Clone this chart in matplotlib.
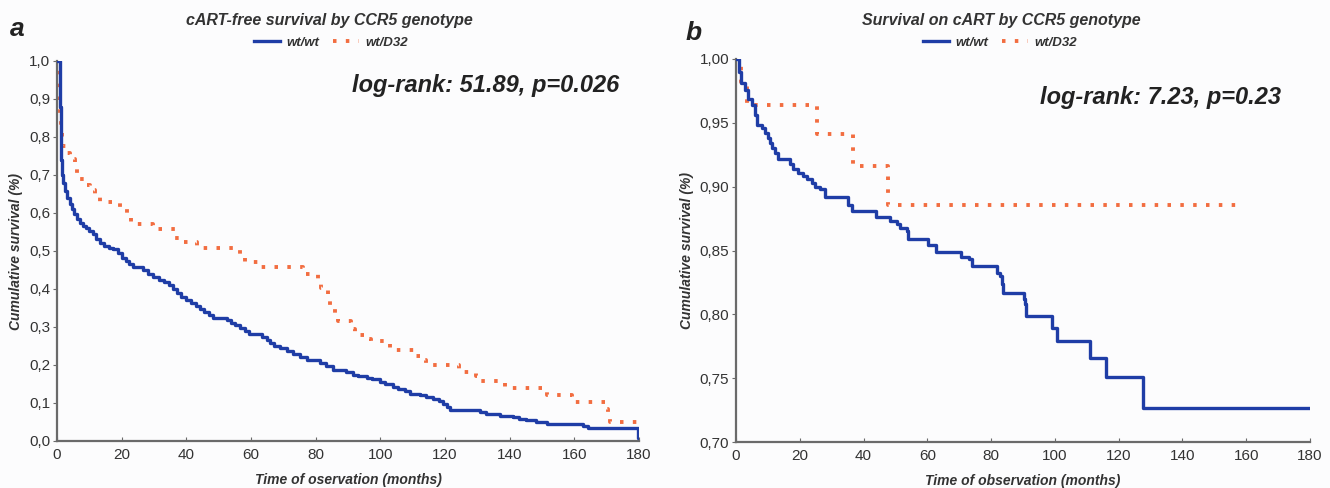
import matplotlib
matplotlib.use('Agg')
import matplotlib.pyplot as plt
from matplotlib.lines import Line2D

plt.rcParams['font.family'] = ['Liberation Sans', 'DejaVu Sans']

# panel a: cART-free survival, wt/wt
a_wt_time = [0, 0.9, 1.0, 1.1, 1.2, 1.4, 1.8, 2.4, 3.0, 3.9, 4.6, 5.4, 6.3, 7.0, 8.0,
             9.0, 10.0, 11.2, 12.2, 13.2, 14.5, 16.0, 17.4, 18.8, 20.0, 21.2, 22.3, 23.6,
             26.6, 28.0, 29.8, 31.5, 33.0, 34.5, 36.0, 37.0, 38.5, 40.0, 41.5, 43.0, 44.2,
             45.5, 47.0, 48.3, 52.5, 53.8, 55.2, 56.6, 58.0, 59.3, 63.5, 65.0, 66.0, 67.0,
             69.0, 71.0, 73.0, 75.2, 77.3, 81.4, 83.3, 85.4, 89.5, 91.7, 93.0, 95.9, 97.5,
             99.8, 101.5, 103.9, 105.5, 107.5, 109.1, 112.2, 114.0, 116.3, 118.0, 119.4,
             120.5, 121.5, 130.8, 132.8, 137.0, 141.1, 143.0, 145.2, 148.0, 151.4, 162.8,
             164.3, 179.8, 180.0]
a_wt_surv = [1.0, 0.95, 0.88, 0.80, 0.74, 0.70, 0.68, 0.658, 0.64, 0.623, 0.61, 0.597,
             0.585, 0.575, 0.567, 0.56, 0.552, 0.544, 0.532, 0.52, 0.512, 0.508, 0.505,
             0.495, 0.482, 0.474, 0.465, 0.457, 0.450, 0.440, 0.432, 0.425, 0.418, 0.410,
             0.400, 0.390, 0.380, 0.372, 0.364, 0.356, 0.347, 0.340, 0.332, 0.325, 0.318,
             0.311, 0.304, 0.297, 0.290, 0.282, 0.275, 0.267, 0.258, 0.251, 0.244, 0.238,
             0.230, 0.221, 0.212, 0.205, 0.197, 0.186, 0.181, 0.175, 0.170, 0.166, 0.162,
             0.156, 0.150, 0.142, 0.137, 0.131, 0.124, 0.120, 0.115, 0.111, 0.105, 0.098,
             0.090, 0.082, 0.076, 0.071, 0.067, 0.063, 0.058, 0.054, 0.050, 0.046, 0.040,
             0.033, 0.008, 0.008]

# panel a: cART-free survival, wt/D32
a_d32_time = [0, 0.9, 1.0, 1.2, 1.4, 1.6, 2.9, 3.9, 5.5, 6.2, 7.0, 8.6, 10.1, 11.7, 13.2,
              19.5, 21.5, 23.0, 29.8, 36.5, 38.5, 43.2, 56.6, 58.2, 62.3, 76.0, 80.7, 81.8,
              83.8, 84.5, 85.9, 86.9, 91.0, 92.1, 95.5, 97.0, 102.9, 110.7, 112.2, 114.0,
              124.3, 129.5, 131.0, 138.5, 151.6, 159.3, 170.0, 170.5, 171.0, 180.0]
a_d32_surv = [1.0, 0.93, 0.86, 0.829, 0.803, 0.776, 0.759, 0.741, 0.728, 0.706, 0.689,
              0.674, 0.660, 0.645, 0.630, 0.610, 0.592, 0.571, 0.558, 0.535, 0.525, 0.509,
              0.492, 0.472, 0.457, 0.439, 0.422, 0.403, 0.369, 0.347, 0.330, 0.317, 0.295,
              0.280, 0.269, 0.262, 0.240, 0.225, 0.214, 0.199, 0.181, 0.172, 0.159, 0.140,
              0.120, 0.102, 0.085, 0.067, 0.050, 0.050]

# panel b: survival on cART, wt/wt
b_wt_time = [0, 0.8, 1.5, 2.8, 3.9, 4.9, 6.0, 6.5, 8.0, 9.1, 10.1, 10.7, 11.2, 12.2, 13.3,
             16.9, 18.0, 19.5, 21.1, 22.4, 23.7, 24.8, 26.3, 28.0, 35.2, 36.3, 44.0, 48.3,
             50.4, 51.4, 53.5, 54.0, 60.3, 62.7, 70.6, 73.2, 73.9, 81.7, 82.8, 83.3, 83.6,
             90.3, 90.7, 91.0, 99.1, 100.6, 111.1, 115.9, 127.6, 180.0]
b_wt_surv = [1.0, 0.990, 0.981, 0.976, 0.969, 0.964, 0.956, 0.948, 0.946, 0.942, 0.938,
             0.934, 0.930, 0.926, 0.922, 0.918, 0.914, 0.911, 0.908, 0.906, 0.903, 0.900,
             0.898, 0.892, 0.886, 0.881, 0.876, 0.873, 0.871, 0.868, 0.865, 0.859, 0.854,
             0.849, 0.845, 0.843, 0.838, 0.832, 0.830, 0.824, 0.817, 0.812, 0.808, 0.799,
             0.789, 0.779, 0.766, 0.751, 0.727, 0.727]

# panel b: survival on cART, wt/D32
b_d32_time = [0, 1.5, 3.3, 25.3, 36.7, 47.8, 157.5]
b_d32_surv = [1.0, 0.982, 0.964, 0.941, 0.916, 0.886, 0.886]

BLUE = '#1f3da6'
ORANGE = '#f26d40'
GRAY = '#6a6a6a'
TXT = '#333333'
DOTS = (0, (0.9, 2.4))

W, H = 1330, 488
fig = plt.figure(figsize=(W / 100, H / 100), dpi=100)
fig.patch.set_facecolor('#fcfcfd')


def axes_px(left, top, right, bottom):
    return fig.add_axes([left / W, 1 - bottom / H, (right - left) / W, (bottom - top) / H])


def style(ax, ylim, yticks, fmt):
    ax.set_facecolor('none')
    ax.set_xlim(0, 180)
    ax.set_ylim(*ylim)
    ax.set_xticks(range(0, 181, 20))
    ax.set_yticks(yticks)
    ax.set_yticklabels([(fmt % v).replace('.', ',') for v in yticks])
    for s in ['top', 'right']:
        ax.spines[s].set_visible(False)
    for s in ['left', 'bottom']:
        ax.spines[s].set_color(GRAY)
        ax.spines[s].set_linewidth(1.6)
    ax.tick_params(axis='x', direction='in', length=3, color=GRAY, labelsize=11,
                   labelcolor=TXT, pad=5)
    ax.tick_params(axis='y', direction='out', length=3, color=GRAY, labelsize=11,
                   labelcolor=TXT, pad=2)
    ax.set_ylabel('Cumulative survival (%)', fontsize=10, style='italic',
                  fontweight='bold', color=TXT, labelpad=4)


def curves(ax, t1, s1, t2, s2):
    ax.step(t2, s2, where='post', color=ORANGE, lw=2.8, linestyle=DOTS,
            dash_capstyle='butt', zorder=2)
    ax.step(t1, s1, where='post', color=BLUE, lw=2.4, zorder=3)


ax1 = axes_px(57, 61, 639, 441)
curves(ax1, a_wt_time, a_wt_surv, a_d32_time, a_d32_surv)
style(ax1, (0, 1.0), [i / 10 for i in range(11)], '%.1f')
ax1.set_xlabel('Time of oservation (months)', fontsize=10, style='italic',
               fontweight='bold', color=TXT, labelpad=8)

ax2 = axes_px(736, 59, 1310, 442)
curves(ax2, b_wt_time, b_wt_surv, b_d32_time, b_d32_surv)
style(ax2, (0.70, 1.0), [0.70, 0.75, 0.80, 0.85, 0.90, 0.95, 1.00], '%.2f')
ax2.set_xlabel('Time of observation (months)', fontsize=10, style='italic',
               fontweight='bold', color=TXT, labelpad=8)

# titles, legends, annotations
fig.text(329 / W, 1 - 20 / H, 'cART-free survival by CCR5 genotype', ha='center',
         va='center', fontsize=11.5, style='italic', fontweight='bold', color=TXT)
fig.text(1001 / W, 1 - 20 / H, 'Survival on cART by CCR5 genotype', ha='center',
         va='center', fontsize=11.5, style='italic', fontweight='bold', color=TXT)

handles = [Line2D([], [], color=BLUE, lw=2.4),
           Line2D([], [], color=ORANGE, lw=2.8, linestyle=DOTS)]
for cx in (331, 1000):
    fig.legend(handles, ['wt/wt', 'wt/D32'], loc='center', ncol=2, frameon=False,
               bbox_to_anchor=(cx / W, 1 - 43 / H), handlelength=2.0, handletextpad=0.5,
               columnspacing=1.0, prop={'size': 9.5, 'style': 'italic', 'weight': 'bold'},
               labelcolor=TXT)

fig.text(352 / W, 1 - 92 / H, 'log-rank: 51.89, p=0.026', ha='left', va='baseline',
         fontsize=17, style='italic', fontweight='bold', color='#222222')
fig.text(1040 / W, 1 - 104 / H, 'log-rank: 7.23, p=0.23', ha='left', va='baseline',
         fontsize=17, style='italic', fontweight='bold', color='#222222')

fig.text(10 / W, 1 - 36 / H, 'a', fontsize=19, style='italic', fontweight='bold',
         color='#222222', va='baseline')
fig.text(686 / W, 1 - 40 / H, 'b', fontsize=19, style='italic', fontweight='bold',
         color='#222222', va='baseline')

fig.savefig('out.png', dpi=100, facecolor=fig.get_facecolor())
